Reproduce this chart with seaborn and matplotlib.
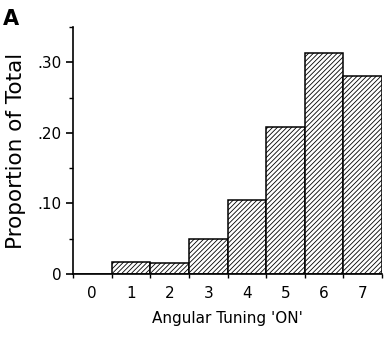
import numpy as np
import pandas as pd
import matplotlib
matplotlib.use("Agg")
import matplotlib.pyplot as plt
import seaborn as sns
from matplotlib.ticker import MultipleLocator, FixedLocator

# data
tuning = [0, 1, 2, 3, 4, 5, 6, 7]
proportion = [0.0, 0.017, 0.016, 0.049, 0.105, 0.209, 0.314, 0.281]
ytick_vals = [0, 0.10, 0.20, 0.30]
ytick_labels = ["0", ".10", ".20", ".30"]

sns.set_style("ticks")
plt.rcParams['font.family'] = ['DejaVu Sans']
plt.rcParams['hatch.linewidth'] = 0.6
plt.rcParams['text.color'] = 'black'
plt.rcParams['axes.labelcolor'] = 'black'
plt.rcParams['xtick.color'] = 'black'
plt.rcParams['ytick.color'] = 'black'
plt.rcParams['axes.edgecolor'] = 'black'

df = pd.DataFrame({"tuning": tuning, "proportion": proportion})

fig = plt.figure(figsize=(3.84, 3.39), dpi=100)
ax = fig.add_axes([0.19, 0.192, 0.805, 0.728])

sns.barplot(data=df, x="tuning", y="proportion", color="white",
            edgecolor="black", linewidth=1.1, width=1.0, hatch="/" * 7,
            ax=ax, saturation=1)

ax.set_xlim(-0.5, 7.5)
ax.set_ylim(0, 0.35)
sns.despine(ax=ax)
for s in ["left", "bottom"]:
    ax.spines[s].set_linewidth(1.2)

ax.set_yticks(ytick_vals)
ax.set_yticklabels(ytick_labels, fontsize=11)
ax.yaxis.set_minor_locator(MultipleLocator(0.05))
ax.tick_params(axis="y", which="major", length=5, width=1.2)
ax.tick_params(axis="y", which="minor", length=3, width=1)

ax.set_xticks(range(len(tuning)))
ax.set_xticklabels([str(t) for t in tuning], fontsize=11)
ax.xaxis.set_minor_locator(FixedLocator(np.arange(-0.5, 8.0, 1.0)))
ax.tick_params(axis="x", which="major", length=0, pad=9)
ax.tick_params(axis="x", which="minor", length=3, width=1)

ax.set_xlabel("Angular Tuning 'ON'", fontsize=11, labelpad=7)
ax.set_ylabel("Proportion of Total", fontsize=15.5, labelpad=8)

fig.text(0.008, 0.925, "A", fontsize=15, fontweight="bold")

fig.savefig("out.png", dpi=100)
